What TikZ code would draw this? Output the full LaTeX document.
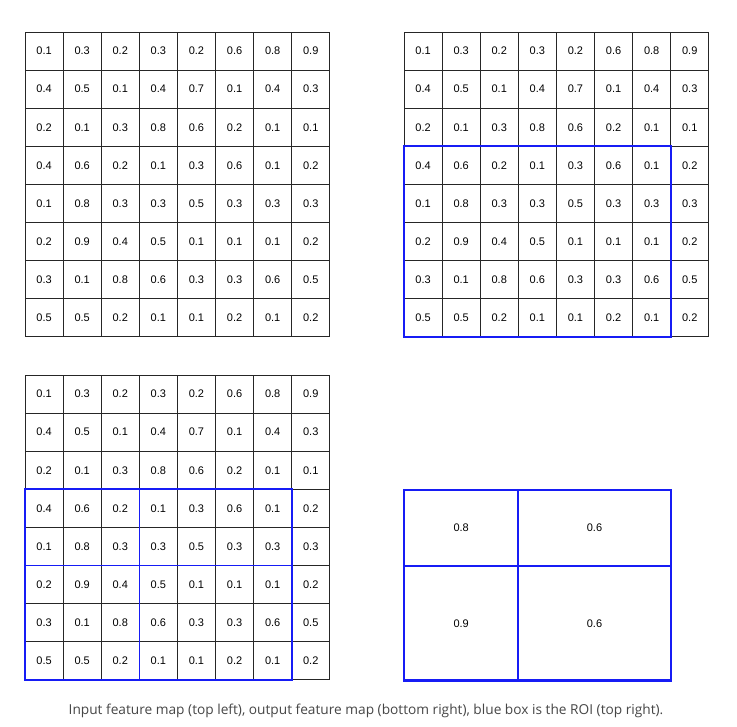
\documentclass[tikz,border=0pt]{standalone}
\usepackage{fontspec}
\setmainfont{Liberation Sans}
\newfontfamily\capfont{Open Sans}
\usetikzlibrary{positioning}

\definecolor{roiblue}{RGB}{22,28,245}
\definecolor{capgray}{RGB}{70,70,70}

% the same 8x8 feature map is shown three times
\newcommand{\featmap}{{0.1,0.3,0.2,0.3,0.2,0.6,0.8,0.9},{0.4,0.5,0.1,0.4,0.7,0.1,0.4,0.3},{0.2,0.1,0.3,0.8,0.6,0.2,0.1,0.1},{0.4,0.6,0.2,0.1,0.3,0.6,0.1,0.2},{0.1,0.8,0.3,0.3,0.5,0.3,0.3,0.3},{0.2,0.9,0.4,0.5,0.1,0.1,0.1,0.2},{0.3,0.1,0.8,0.6,0.3,0.3,0.6,0.5},{0.5,0.5,0.2,0.1,0.1,0.2,0.1,0.2}}

\tikzset{
  cell/.style={draw=black!85, line width=0.9pt, minimum width=38.1pt, minimum height=38.1pt,
    inner sep=0pt, outer sep=0pt, font=\fontsize{11}{13}\selectfont},
  roi/.style={draw=roiblue, line width=1.9pt},
  bin/.style={draw=roiblue, line width=2.3pt, inner sep=0pt, outer sep=0pt,
    font=\fontsize{11}{13}\selectfont}
}

\begin{document}
\begin{tikzpicture}[x=1pt, y=-1pt]
  \useasboundingbox (0,0) rectangle (737,727);
  \foreach \gx/\gy/\gn in {25/32/in, 404/32/roi, 25/375/bins} {
    \foreach \row [count=\r from 0] in \featmap {
      \foreach \v [count=\c from 0] in \row {
        \node[cell] (\gn-\r-\c) at ({\gx+19.05+38.1*\c}, {\gy+19.05+38.1*\r}) {\v};
      }
    }
  }
  % ROI
  \draw[roi] (roi-3-0.north west) rectangle (roi-7-6.south east);
  % ROI split into 2x2 bins
  \draw[roi] (bins-3-0.north west) rectangle (bins-7-6.south east);
  \draw[roi, line width=1.3pt] (bins-3-3.north west) -- (bins-7-3.south west);
  \draw[roi, line width=1.3pt] (bins-5-0.north west) -- (bins-5-6.north east);
  % pooled output
  \node[bin, minimum width=114.3pt, minimum height=76.2pt, anchor=north west] (out-0-0) at (404,490) {0.8};
  \node[bin, minimum width=152.4pt, minimum height=76.2pt, right=0pt of out-0-0] (out-0-1) {0.6};
  \node[bin, minimum width=114.3pt, minimum height=114.3pt, below=0pt of out-0-0] (out-1-0) {0.9};
  \node[bin, minimum width=152.4pt, minimum height=114.3pt, below=0pt of out-0-1] (out-1-1) {0.6};
  \node[font=\capfont\fontsize{13.7}{16}\selectfont, text=capgray] (caption) at (366,711)
    {Input feature map (top left), output feature map (bottom right), blue box is the ROI (top right).};
\end{tikzpicture}
\end{document}
